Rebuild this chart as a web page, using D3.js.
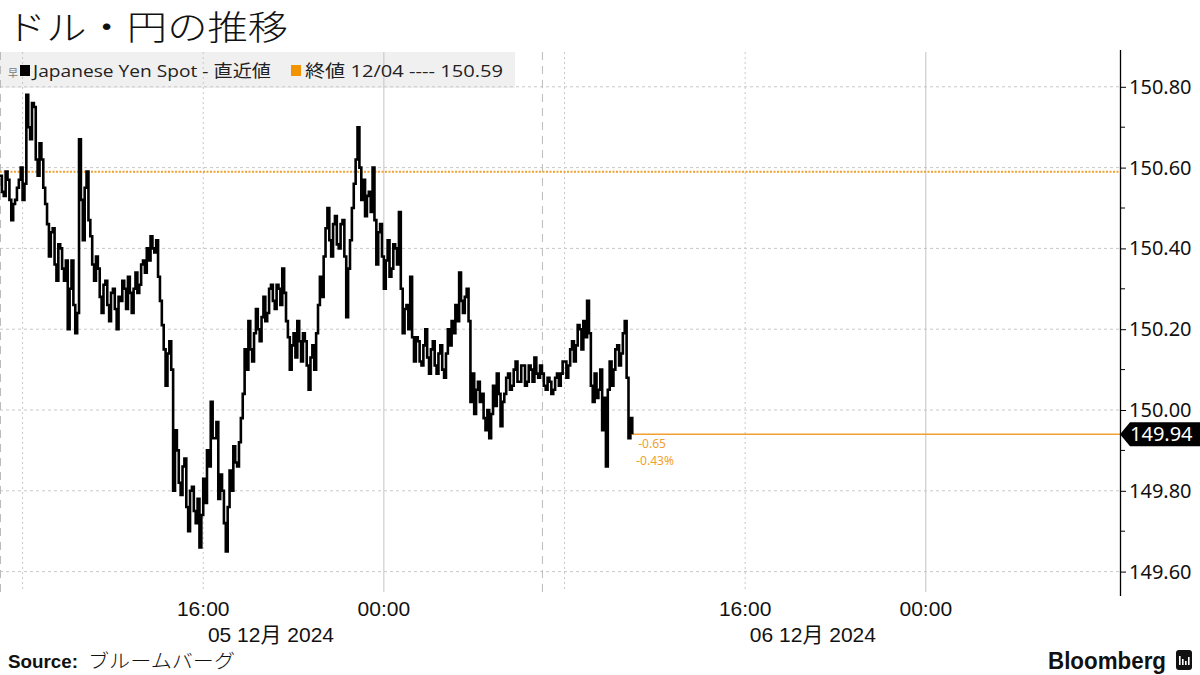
<!DOCTYPE html>
<html><head><meta charset="utf-8">
<script src="https://cdn.jsdelivr.net/npm/d3@7"></script>
<style>body{margin:0;background:#fff} svg{display:block}</style>
</head><body>
<svg id="c" width="1200" height="675"></svg>
<script>
// ---- data ----
const seriesStart = "2024-12-05T07:00";
const stepMinutes = 5;
const usdJpy = [
150.58,150.54,150.53,150.59,150.57,150.52,150.47,150.51,150.52,150.55,
150.57,150.60,150.52,150.56,150.78,150.70,150.67,150.76,150.75,150.62,
150.58,150.66,150.62,150.55,150.51,150.46,150.38,150.44,150.45,150.36,
150.32,150.41,150.40,150.35,150.32,150.37,150.20,150.30,150.37,150.26,
150.19,150.24,150.67,150.52,150.42,150.55,150.59,150.47,150.43,150.36,
150.32,150.38,150.35,150.28,150.24,150.31,150.32,150.26,150.22,150.29,
150.30,150.25,150.20,150.28,150.27,150.32,150.30,150.25,150.33,150.29,
150.24,150.30,150.34,150.29,150.31,150.36,150.37,150.34,150.40,150.37,
150.43,150.40,150.39,150.42,150.33,150.27,150.21,150.15,150.06,150.14,
150.17,150.10,149.80,149.95,149.90,149.82,149.79,149.86,149.88,149.76,
149.70,149.80,149.81,149.75,149.72,149.78,149.66,149.74,149.83,149.77,
149.90,149.86,150.02,149.93,149.93,149.97,149.78,149.84,149.80,149.72,
149.65,149.76,149.85,149.80,149.91,149.87,149.86,149.92,149.98,150.04,
150.15,150.10,150.22,150.15,150.12,150.19,150.25,150.20,150.17,150.23,
150.28,150.22,150.24,150.30,150.31,150.27,150.25,150.31,150.30,150.26,
150.35,150.29,150.22,150.18,150.10,150.16,150.19,150.13,150.22,150.17,
150.12,150.19,150.17,150.11,150.05,150.13,150.16,150.10,150.19,150.26,
150.33,150.28,150.38,150.45,150.50,150.42,150.38,150.46,150.48,150.41,
150.40,150.46,150.47,150.38,150.23,150.35,150.42,150.50,150.56,150.62,
150.70,150.60,150.52,150.57,150.48,150.53,150.54,150.49,150.60,150.47,
150.36,150.44,150.46,150.38,150.30,150.37,150.42,150.33,150.35,150.41,
150.40,150.36,150.49,150.30,150.19,150.25,150.26,150.20,150.33,150.18,
150.12,150.18,150.17,150.12,150.11,150.16,150.20,150.13,150.09,150.15,
150.17,150.11,150.09,150.14,150.16,150.10,150.08,150.14,150.20,150.16,
150.22,150.19,150.26,150.22,150.34,150.27,150.24,150.28,150.30,150.22,
150.02,150.09,149.99,150.05,150.07,150.02,150.04,149.98,149.95,150.00,
149.93,149.99,150.06,150.01,150.09,150.04,149.96,150.02,150.04,150.08,
150.09,150.05,150.06,150.10,150.12,150.07,150.07,150.11,150.11,150.06,
150.07,150.11,150.10,150.07,150.13,150.09,150.08,150.11,150.09,150.06,
150.05,150.08,150.07,150.04,150.05,150.08,150.09,150.06,150.09,150.12,
150.12,150.08,150.11,150.15,150.17,150.12,150.16,150.21,150.20,150.15,
150.22,150.18,150.27,150.19,150.06,150.02,150.09,150.03,150.05,150.10,
149.95,150.03,149.86,150.05,150.12,150.06,150.10,150.15,150.16,150.11,
150.14,150.19,150.22,150.08,149.93,149.98,149.94
];
const prevClose = 150.59;
const prevCloseDate = "12/04";
const yTicks = [149.6, 149.8, 150.0, 150.2, 150.4, 150.6, 150.8];
const yMinorTicks = [149.7, 149.9, 150.1, 150.3, 150.5, 150.7];
const xDomain = ["2024-12-05T07:00", "2024-12-07T08:36"];
const timeLabels = ["2024-12-05T16:00", "2024-12-06T00:00", "2024-12-06T16:00", "2024-12-07T00:00"];
const dateLabelTimes = ["2024-12-05T19:00", "2024-12-06T19:00"];
const dateLabelTexts = ["05 12月 2024", "06 12月 2024"];
const gridDash = ["2024-12-05T07:00", "2024-12-06T07:00"];
const gridDot = ["2024-12-05T08:00", "2024-12-05T16:00", "2024-12-06T08:00", "2024-12-06T16:00"];
const gridSolid = ["2024-12-06T00:00", "2024-12-07T00:00"];

// ---- setup ----
const parse = d3.timeParse("%Y-%m-%dT%H:%M");
const t0 = parse(seriesStart);
const points = usdJpy.map((v, i) => ({t: d3.timeMinute.offset(t0, i * stepMinutes), v}));
const svg = d3.select("#c");
const plotL = 0, plotR = 1120, plotT = 52, plotB = 592;
const x = d3.scaleTime().domain(xDomain.map(parse)).range([plotL, plotR]);
const y = d3.scaleLinear().domain([150, 151]).range([410, 6]);

const orange = "#f0a030";

// title
svg.append("text").attr("x", 6).attr("y", 40)
  .attr("font-family", "'Noto Sans CJK JP'").attr("font-size", 34).attr("font-weight", 300)
  .attr("textLength", 282).attr("lengthAdjust", "spacingAndGlyphs")
  .attr("fill", "#111").text("ドル・円の推移");

// legend background
svg.append("rect").attr("x", 0).attr("y", 52).attr("width", 515).attr("height", 36).attr("fill", "#f0f0f0");

// grid horizontal
svg.append("g").selectAll("line").data(yTicks).join("line")
  .attr("x1", plotL).attr("x2", plotR).attr("y1", d => y(d)).attr("y2", d => y(d))
  .attr("stroke", "#c8c8c8").attr("stroke-dasharray", "3,3");
// grid vertical
const gv = svg.append("g");
gv.selectAll(".gd").data(gridDash).join("line").attr("class", "gd")
  .attr("x1", d => x(parse(d)) + 0.5).attr("x2", d => x(parse(d)) + 0.5)
  .attr("y1", plotT).attr("y2", plotB).attr("stroke", "#bbb").attr("stroke-dasharray", "8,6");
gv.selectAll(".gt").data(gridDot).join("line").attr("class", "gt")
  .attr("x1", d => x(parse(d))).attr("x2", d => x(parse(d)))
  .attr("y1", plotT).attr("y2", plotB).attr("stroke", "#c8c8c8").attr("stroke-dasharray", "2,3");
gv.selectAll(".gs").data(gridSolid).join("line").attr("class", "gs")
  .attr("x1", d => x(parse(d))).attr("x2", d => x(parse(d)))
  .attr("y1", plotT).attr("y2", plotB).attr("stroke", "#c4c4c4");

// legend content
const lg = svg.append("g");
lg.append("text").attr("x", 8).attr("y", 77).attr("font-family", "'Noto Sans CJK JP'")
  .attr("font-size", 10).attr("fill", "#777").text("早");
lg.append("rect").attr("x", 20).attr("y", 65).attr("width", 10).attr("height", 11).attr("fill", "#000");
lg.append("text").attr("x", 33).attr("y", 77).attr("font-family", "'Open Sans', 'Noto Sans CJK JP'")
  .attr("font-size", 17).attr("fill", "#222").attr("textLength", 238).attr("lengthAdjust", "spacingAndGlyphs")
  .text("Japanese Yen Spot - 直近値");
lg.append("rect").attr("x", 291).attr("y", 65).attr("width", 10).attr("height", 11).attr("fill", "#f29400");
lg.append("text").attr("x", 305).attr("y", 77).attr("font-family", "'Open Sans', 'Noto Sans CJK JP'")
  .attr("font-size", 17).attr("fill", "#222").attr("textLength", 198).attr("lengthAdjust", "spacingAndGlyphs")
  .text(`終値 ${prevCloseDate} ---- ${prevClose.toFixed(2)}`);

// previous close dotted line
svg.append("line").attr("x1", plotL).attr("x2", plotR)
  .attr("y1", y(prevClose)).attr("y2", y(prevClose))
  .attr("stroke", orange).attr("stroke-width", 2).attr("stroke-dasharray", "2,1.5");

// last value line
const last = points[points.length - 1];
svg.append("line").attr("x1", x(last.t)).attr("x2", plotR)
  .attr("y1", y(last.v)).attr("y2", y(last.v)).attr("stroke", orange).attr("stroke-width", 1.3);

// series
const line = d3.line().x(d => x(d.t)).y(d => y(d.v)).curve(d3.curveStepAfter);
svg.append("path").datum(points).attr("d", line).attr("fill", "none")
  .attr("stroke", "#000").attr("stroke-width", 2.6).attr("stroke-linejoin", "miter");

// change annotation
const chg = last.v - prevClose;
svg.append("text").attr("x", x(last.t) + 6).attr("y", y(last.v) + 14)
  .attr("font-family", "'Noto Sans'").attr("font-size", 12).attr("fill", orange)
  .text(chg.toFixed(2));
svg.append("text").attr("x", x(last.t) + 4).attr("y", y(last.v) + 31)
  .attr("font-family", "'Noto Sans'").attr("font-size", 12).attr("fill", orange)
  .text((chg / prevClose * 100).toFixed(2) + "%");

// y axis
const yAxis = d3.axisRight(y).tickValues(yTicks).tickSize(6).tickPadding(3).tickFormat(d3.format(".2f"));
const ya = svg.append("g").attr("transform", `translate(${plotR},0)`).call(yAxis);
ya.select(".domain").remove();
ya.selectAll("text").attr("font-family", "'Noto Sans'").attr("font-size", 20).attr("fill", "#111");
ya.selectAll("line").attr("stroke", "#000");
svg.append("g").selectAll("line").data(yMinorTicks).join("line")
  .attr("x1", plotR).attr("x2", plotR + 5).attr("y1", d => y(d)).attr("y2", d => y(d)).attr("stroke", "#000");
svg.append("line").attr("x1", plotR + 0.5).attr("x2", plotR + 0.5).attr("y1", 50).attr("y2", 596).attr("stroke", "#000").attr("stroke-width", 1.3);

// price tag
const ty = y(last.v);
svg.append("path").attr("d", `M${plotR},${ty} L${plotR + 10},${ty - 12} L1200,${ty - 12} L1200,${ty + 12} L${plotR + 10},${ty + 12} Z`).attr("fill", "#000");
svg.append("text").attr("x", 1130).attr("y", ty + 7).attr("font-family", "'Noto Sans'").attr("font-size", 20)
  .attr("fill", "#fff").text(last.v.toFixed(2));

// x labels
const xa = svg.append("g");
xa.selectAll(".tl").data(timeLabels).join("text").attr("class", "tl")
  .attr("x", d => x(parse(d))).attr("y", 616).attr("text-anchor", "middle")
  .attr("font-family", "'Liberation Sans', 'Noto Sans CJK JP'").attr("font-size", 21).attr("fill", "#111")
  .text(d => d3.timeFormat("%H:%M")(parse(d)));
xa.selectAll(".dl").data(dateLabelTimes).join("text").attr("class", "dl")
  .attr("x", d => x(parse(d))).attr("y", 642).attr("text-anchor", "middle")
  .attr("font-family", "'Liberation Sans', 'Noto Sans CJK JP'").attr("font-size", 21).attr("fill", "#111")
  .text((d, i) => dateLabelTexts[i]);

// footer
svg.append("text").attr("x", 8).attr("y", 668).attr("font-size", 18).attr("fill", "#111")
  .attr("font-family", "'Liberation Sans'").attr("font-weight", "bold")
  .attr("textLength", 70).attr("lengthAdjust", "spacingAndGlyphs").text("Source:");
svg.append("text").attr("x", 88).attr("y", 668).attr("font-size", 19).attr("fill", "#111")
  .attr("font-family", "'Noto Sans CJK JP'").attr("font-weight", 300)
  .attr("textLength", 147).attr("lengthAdjust", "spacingAndGlyphs").text("ブルームバーグ");
svg.append("text").attr("x", 1166).attr("y", 669).attr("text-anchor", "end")
  .attr("font-family", "'Liberation Sans'").attr("font-weight", "bold").attr("font-size", 23)
  .attr("textLength", 118).attr("lengthAdjust", "spacingAndGlyphs")
  .attr("fill", "#111").text("Bloomberg");
const logo = svg.append("g").attr("transform", "translate(1176,650)");
logo.append("rect").attr("width", 16).attr("height", 20).attr("rx", 3).attr("fill", "#111");
[[3,9],[6,6],[9,4],[12,8]].forEach(([bx, bh]) => logo.append("rect").attr("x", bx).attr("y", 15 - bh).attr("width", 1.6).attr("height", bh).attr("fill", "#fff"));
</script>
</body></html>
